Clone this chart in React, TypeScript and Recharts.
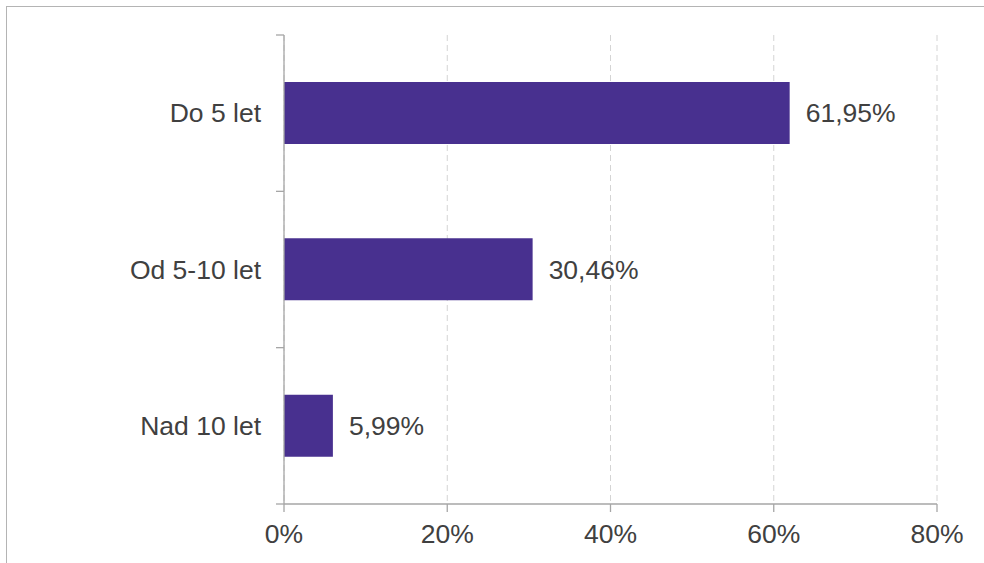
import { Bar, BarChart, CartesianGrid, LabelList, XAxis, YAxis } from "recharts";

const categories = ["Do 5 let", "Od 5-10 let", "Nad 10 let"];
const shares = [61.95, 30.46, 5.99];
const xTicks = [0, 20, 40, 60, 80];

const W = 984;
const H = 563;
const M = { top: 35, right: 47, left: 0, bottom: 9 };
const Y_W = 284;
const X_H = 50;
const AXIS = "#a6a6a6";
const TEXT = "#404040";
const FONT = "'Liberation Sans', Arial, sans-serif";
const FS = 26.5;

const rows = categories.map((name, i) => ({ name, value: shares[i] }));

const bandH = (H - M.top - M.bottom - X_H) / categories.length;

function CatTick(props: any) {
  const { y, payload, index } = props;
  const x0 = M.left + Y_W;
  return (
    <g>
      <line x1={x0 - 8} x2={x0} y1={y - bandH / 2} y2={y - bandH / 2} stroke={AXIS} strokeWidth={1.3} />
      {index === categories.length - 1 && (
        <line x1={x0 - 8} x2={x0} y1={y + bandH / 2} y2={y + bandH / 2} stroke={AXIS} strokeWidth={1.3} />
      )}
      <text x={x0 - 23} y={y} textAnchor="end" dominantBaseline="central" fill={TEXT} fontSize={FS} fontFamily={FONT}>
        {payload.value}
      </text>
    </g>
  );
}

export default function App() {
  return (
    <div style={{ position: "absolute", left: 0, top: 0, width: W, height: H, overflow: "hidden", background: "#fff" }}>
      <div
        style={{
          position: "absolute",
          left: 6,
          top: 6,
          width: 1100,
          height: 700,
          border: "1.5px solid #b4b4b4",
        }}
      />
      <div style={{ position: "absolute", left: 0, top: 0 }}>
        <BarChart width={W} height={H} data={rows} layout="vertical" margin={M}>
          <CartesianGrid horizontal={false} stroke="#d4d4d4" strokeDasharray="6 4" />
          <XAxis
            type="number"
            domain={[0, 80]}
            ticks={xTicks}
            tickFormatter={(v: number) => `${v}%`}
            height={X_H}
            stroke={AXIS}
            strokeWidth={1.3}
            tickSize={8}
            tickMargin={12}
            tick={{ fill: TEXT, fontSize: FS, fontFamily: FONT }}
          />
          <YAxis
            type="category"
            dataKey="name"
            width={Y_W}
            stroke={AXIS}
            strokeWidth={1.3}
            tickLine={false}
            tick={<CatTick />}
          />
          <Bar dataKey="value" fill="#48308f" barSize={62} isAnimationActive={false}>
            <LabelList
              dataKey="value"
              position="right"
              offset={16}
              formatter={(v: any) => `${Number(v).toFixed(2).replace(".", ",")}%`}
              style={{ fill: TEXT, fontSize: FS, fontFamily: FONT }}
            />
          </Bar>
        </BarChart>
      </div>
    </div>
  );
}
